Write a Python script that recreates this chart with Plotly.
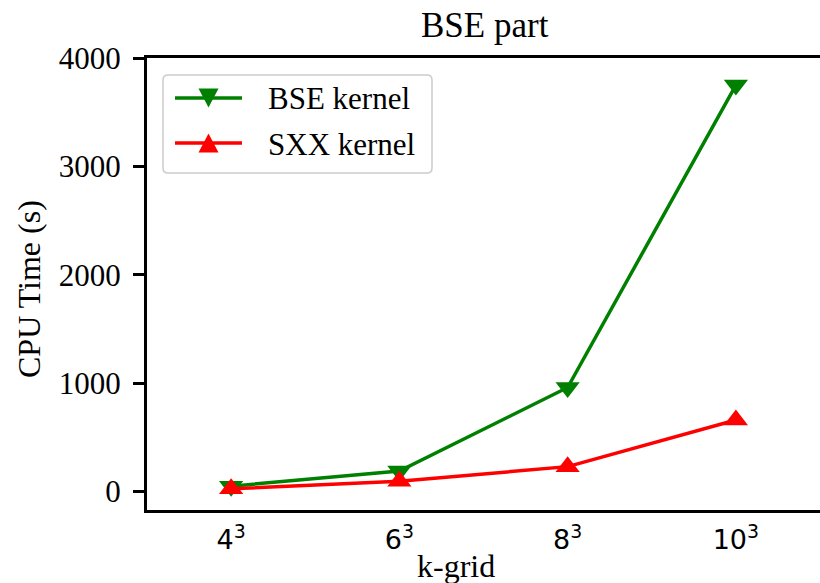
import plotly.graph_objects as go

# k-point grids and CPU time (seconds) of each kernel
k_grid = ["4<sup>3</sup>", "6<sup>3</sup>", "8<sup>3</sup>", "10<sup>3</sup>"]
bse_kernel = [50, 190, 960, 3750]
sxx_kernel = [25, 95, 230, 660]
series_names = ["BSE kernel", "SXX kernel"]
series_colors = ["#008000", "#ff0000"]
series_symbols = ["triangle-down", "triangle-up"]
y_ticks = [0, 1000, 2000, 3000, 4000]

W, H = 820, 583
L, R, T, B = 147, 820, 58, 510
SERIF = "Liberation Serif"


def px(x):
    return (x - L) / (R - L)


def py(y):
    return (B - y) / (B - T)


fig = go.Figure()
for name, vals, col, sym in zip(series_names, [bse_kernel, sxx_kernel],
                                series_colors, series_symbols):
    fig.add_trace(go.Scatter(
        x=k_grid, y=vals, name=name, mode="lines+markers",
        line=dict(color=col, width=3.5),
        marker=dict(symbol=sym, size=21, color=col),
        showlegend=False, cliponaxis=False,
    ))

# legend frame with rounded corners
x0, x1, y0, y1 = px(163), px(432), py(173), py(75)
rx, ry = 5 / (R - L), 5 / (B - T)
frame = (f"M{x0+rx},{y1} L{x1-rx},{y1} Q{x1},{y1} {x1},{y1-ry} "
         f"L{x1},{y0+ry} Q{x1},{y0} {x1-rx},{y0} L{x0+rx},{y0} "
         f"Q{x0},{y0} {x0},{y0+ry} L{x0},{y1-ry} Q{x0},{y1} {x0+rx},{y1} Z")
shapes = [dict(type="path", xref="paper", yref="paper", path=frame,
               line=dict(color="#cccccc", width=1.5),
               fillcolor="rgba(255,255,255,0.8)", layer="above")]
annotations = []

rows = [98, 143]
for name, col, sym, ry_px in zip(series_names, series_colors, series_symbols, rows):
    shapes.append(dict(type="line", xref="paper", yref="paper",
                       x0=px(175), x1=px(242), y0=py(ry_px), y1=py(ry_px),
                       line=dict(color=col, width=3.5), layer="above"))
    cx, hw, hh = 208.5, 10, 9.5
    if sym == "triangle-down":
        tri = [(cx - hw, ry_px - hh), (cx + hw, ry_px - hh), (cx, ry_px + hh)]
    else:
        tri = [(cx - hw, ry_px + hh), (cx + hw, ry_px + hh), (cx, ry_px - hh)]
    path = "M" + " L".join(f"{px(a)},{py(b)}" for a, b in tri) + " Z"
    shapes.append(dict(type="path", xref="paper", yref="paper", path=path,
                       line=dict(width=0), fillcolor=col, layer="above"))
    annotations.append(dict(text=name, xref="paper", yref="paper",
                            x=px(266), y=py(ry_px + 1), xanchor="left",
                            yanchor="middle", showarrow=False,
                            font=dict(family=SERIF, size=31, color="black")))

# axis titles
annotations.append(dict(text="CPU Time (s)", xref="paper", yref="paper",
                        x=px(29), y=py(289), textangle=-90, showarrow=False,
                        xanchor="center", yanchor="middle",
                        font=dict(family=SERIF, size=32, color="black")))
annotations.append(dict(text="k-grid", xref="paper", yref="paper",
                        x=px(456), y=py(566), showarrow=False,
                        xanchor="center", yanchor="middle",
                        font=dict(family=SERIF, size=32, color="black")))
annotations.append(dict(text="BSE part", xref="paper", yref="paper",
                        x=px(485), y=py(26), showarrow=False,
                        xanchor="center", yanchor="middle",
                        font=dict(family=SERIF, size=35, color="black")))

fig.update_layout(
    width=W, height=H,
    margin=dict(l=L, r=W - R, t=T, b=H - B, pad=0),
    paper_bgcolor="white", plot_bgcolor="white",
    shapes=shapes, annotations=annotations,
    xaxis=dict(
        type="category", range=[-0.5, 3.5],
        showline=True, linecolor="black", linewidth=3, mirror=True,
        showgrid=False, zeroline=False, ticks="",
        ticklabelstandoff=4,
        tickfont=dict(family="DejaVu Sans", size=27, color="black"),
    ),
    yaxis=dict(
        range=[-170, 4000], tickvals=y_ticks,
        showline=True, linecolor="black", linewidth=3, mirror=False,
        showgrid=False, zeroline=False,
        ticks="outside", ticklen=11, tickwidth=2.5, tickcolor="black",
        ticklabelstandoff=6,
        tickfont=dict(family=SERIF, size=31, color="black"),
    ),
)

fig.write_html("out.html")
